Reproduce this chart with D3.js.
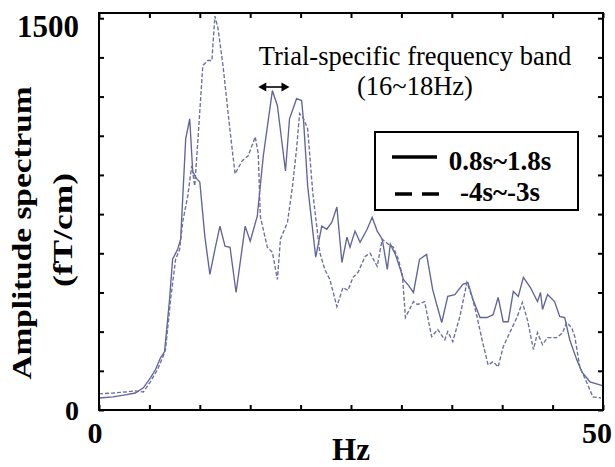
<!DOCTYPE html>
<html>
<head>
<meta charset="utf-8">
<script src="https://cdn.jsdelivr.net/npm/d3@7"></script>
<style>
body{margin:0;background:#fff}
text{font-family:"Liberation Serif","Times New Roman",serif;fill:#000}
</style>
</head>
<body>
<script>
const solidHz = [0,1.4,2.6,3.6,4.4,5.1,5.6,6.1,6.5,7.0,7.3,7.8,8.1,8.6,9.0,9.3,9.7,10.0,10.5,11.0,11.5,12.0,12.5,13.0,13.6,14.5,15.0,15.7,16.3,17.2,17.7,18.5,18.9,19.6,20.1,20.3,20.7,21.5,22.1,22.6,23.1,23.6,24.1,24.6,24.9,25.4,25.9,26.6,27.1,27.6,28.1,28.6,28.9,29.4,29.9,30.2,30.7,31.2,31.8,32.5,33.1,33.5,34.0,34.6,35.3,36.1,36.6,37.1,37.8,38.5,39.1,39.6,40.1,40.6,41.1,41.6,42.1,42.8,43.5,43.8,44.0,44.5,45.2,45.7,46.2,46.7,47.4,47.9,48.7,49.7,50.0]
const solidAmp = [46,50,58,65,85,123,154,200,223,423,577,615,654,1038,1115,912,885,873,665,519,615,704,627,623,450,704,646,742,973,1223,1165,915,1115,1192,1185,1104,858,585,704,692,719,777,565,662,623,685,642,692,738,685,654,538,635,596,538,500,477,450,577,596,462,404,335,435,442,481,488,423,354,354,365,431,338,338,454,435,508,469,415,450,385,442,415,358,354,269,192,146,108,96,92]

const dashedHz = [0,1.4,2.6,3.6,4.4,5.1,5.8,6.3,6.6,7.1,7.6,8.0,8.3,8.8,9.2,9.5,9.8,10.3,10.8,11.2,11.5,11.8,12.3,13.0,13.5,14.2,14.8,15.5,15.8,16.0,16.7,17.2,17.7,18.0,18.7,19.2,19.6,19.9,20.3,20.7,21.2,21.9,22.4,22.9,23.6,24.2,24.7,25.2,25.7,26.4,26.9,27.6,28.1,28.7,29.2,29.7,30.1,30.4,31.2,31.6,32.3,33.0,33.6,34.3,34.6,35.1,35.8,36.5,37.0,37.5,38.0,38.6,39.1,39.6,40.1,40.8,41.5,42.0,42.5,43.1,43.5,44.0,44.5,45.4,46.0,46.4,46.9,47.2,47.7,48.4,49.0,49.8]
const dashedAmp = [62,65,69,73,69,108,154,200,231,423,577,615,719,819,935,858,1027,1319,1338,1338,1508,1462,1319,1069,904,954,973,1046,981,742,623,604,500,654,719,858,1000,1135,1115,1077,835,604,538,500,396,469,458,508,527,588,600,550,654,635,623,577,515,354,415,404,415,281,308,269,300,262,358,488,435,358,269,173,185,165,242,300,358,412,346,231,296,250,277,277,296,335,315,281,165,104,50,46]

const xTicks = d3.range(0,51,5)
const yTicks = d3.range(0,1501,150)
const legendLabels = ['0.8s~1.8s','-4s~-3s']
const bandHz = [15.8,18.9]
const bandText = ['Trial-specific frequency band','(16~18Hz)']

const W = 615, H = 467
const svg = d3.select('body').append('svg')
  .attr('width',W)
  .attr('height',H)

const x = d3.scaleLinear().domain([0,50]).range([99,603])
const y = d3.scaleLinear().domain([0,1520]).range([410,13])

const g = svg.append('g')

// data lines
const line = d3.line().x(d => x(d[0])).y(d => y(d[1]))
g.append('path')
  .datum(d3.zip(solidHz,solidAmp))
  .attr('d',line)
  .attr('fill','none')
  .attr('stroke','#60659a')
  .attr('stroke-width',1.35)
g.append('path')
  .datum(d3.zip(dashedHz,dashedAmp))
  .attr('d',line)
  .attr('fill','none')
  .attr('stroke','#6a6ea2')
  .attr('stroke-width',1.35)
  .attr('stroke-dasharray','4,2')

// frame + inward ticks on all sides
function ticks(sel){
  sel.select('.domain').remove()
  sel.selectAll('.tick line').attr('stroke','#000').attr('stroke-width',2)
}
g.append('g').attr('transform',`translate(0,${y(0)})`)
  .call(d3.axisBottom(x).tickValues(xTicks).tickSize(-5).tickFormat('')).call(ticks)
g.append('g').attr('transform',`translate(0,${y.range()[1]})`)
  .call(d3.axisTop(x).tickValues(xTicks).tickSize(-5).tickFormat('')).call(ticks)
g.append('g').attr('transform',`translate(${x(0)},0)`)
  .call(d3.axisLeft(y).tickValues(yTicks).tickSize(-5).tickFormat('')).call(ticks)
g.append('g').attr('transform',`translate(${x(50)},0)`)
  .call(d3.axisRight(y).tickValues(yTicks).tickSize(-5).tickFormat('')).call(ticks)
g.append('rect')
  .attr('x',x(0)).attr('y',y.range()[1])
  .attr('width',x(50)-x(0)).attr('height',y(0)-y.range()[1])
  .attr('fill','none').attr('stroke','#000').attr('stroke-width',2)

// tick labels
g.append('text').attr('x',79).attr('y',y(1500)+19)
  .attr('text-anchor','end').attr('font-size',31).attr('font-weight','bold').text('1500')
g.append('text').attr('x',79).attr('y',y(0)+10)
  .attr('text-anchor','end').attr('font-size',28).attr('font-weight','bold').text('0')
g.append('text').attr('x',x(0)-4).attr('y',443)
  .attr('text-anchor','middle').attr('font-size',30).attr('font-weight','bold').text('0')
g.append('text').attr('x',x(50)+9).attr('y',443)
  .attr('text-anchor','end').attr('font-size',30).attr('font-weight','bold').text('50')

// axis titles
g.append('text').attr('x',x(25)).attr('y',460)
  .attr('text-anchor','middle').attr('font-size',31).attr('font-weight','bold').text('Hz')
g.append('text').attr('transform','translate(31,233) rotate(-90)')
  .attr('text-anchor','middle').attr('font-size',27).attr('font-weight','bold')
  .attr('textLength',293).attr('lengthAdjust','spacingAndGlyphs')
  .text('Amplitude spectrum')
g.append('text').attr('transform','translate(72,230) rotate(-90)')
  .attr('text-anchor','middle').attr('font-size',27).attr('font-weight','bold')
  .attr('textLength',114).attr('lengthAdjust','spacingAndGlyphs')
  .text('(fT/cm)')

// band annotation
g.append('text').attr('x',415).attr('y',65)
  .attr('text-anchor','middle').attr('font-size',26.5).text(bandText[0])
g.append('text').attr('x',415).attr('y',95)
  .attr('text-anchor','middle').attr('font-size',26.5).text(bandText[1])
const ay = 87, x0 = x(bandHz[0]), x1 = x(bandHz[1])
g.append('line').attr('x1',x0+6).attr('x2',x1-6).attr('y1',ay).attr('y2',ay)
  .attr('stroke','#000').attr('stroke-width',1.6)
g.append('path').attr('d',`M${x0},${ay} l8,-4.5 l0,9 Z M${x1},${ay} l-8,-4.5 l0,9 Z`)
  .attr('fill','#000')

// legend
const lg = g.append('g')
lg.append('rect').attr('x',375).attr('y',132).attr('width',203).attr('height',78)
  .attr('fill','#fff').attr('stroke','#000').attr('stroke-width',2)
lg.append('line').attr('x1',392).attr('x2',437).attr('y1',157).attr('y2',157)
  .attr('stroke','#000').attr('stroke-width',3.5)
lg.append('line').attr('x1',395).attr('x2',440).attr('y1',194).attr('y2',194)
  .attr('stroke','#000').attr('stroke-width',3.5).attr('stroke-dasharray','17,10')
lg.selectAll('text.leg').data(legendLabels).enter().append('text')
  .attr('class','leg')
  .attr('x',500).attr('y',(d,i) => 170 + i*31)
  .attr('text-anchor','middle').attr('font-size',27).attr('font-weight','bold')
  .text(d => d)
</script>
</body>
</html>
